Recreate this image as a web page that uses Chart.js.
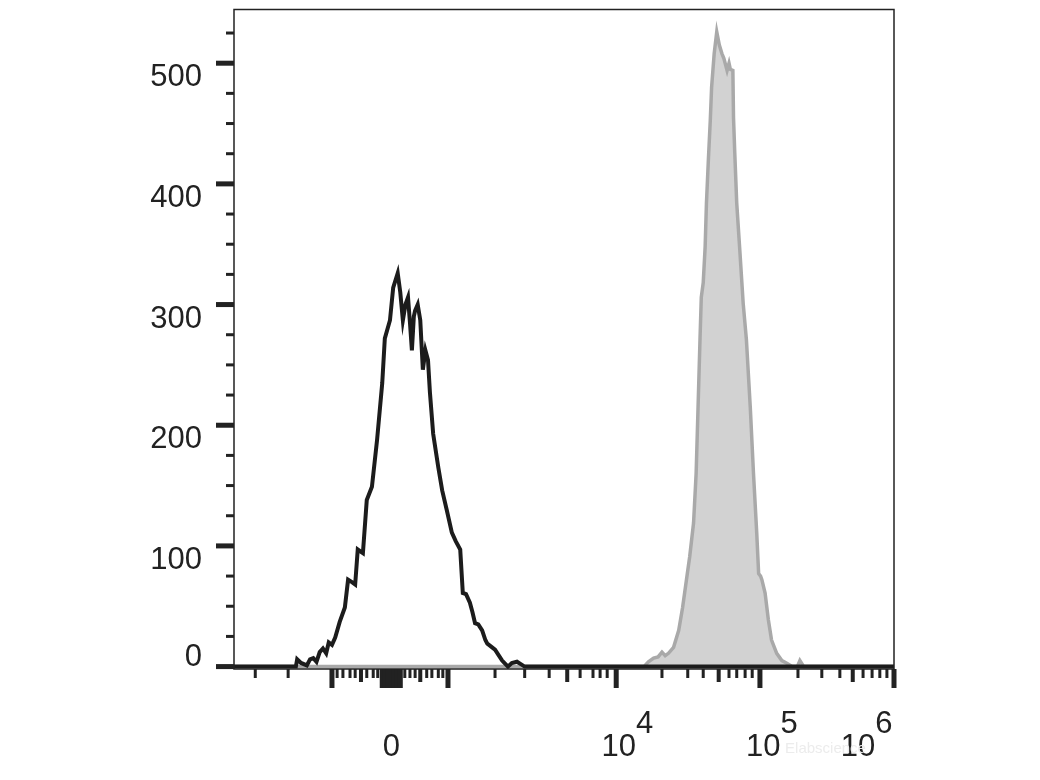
<!DOCTYPE html>
<html>
<head>
<meta charset="utf-8">
<script src="https://cdn.jsdelivr.net/npm/chart.js@4.4.0/dist/chart.umd.min.js"></script>
<style>
  html, body { margin: 0; padding: 0; background: #fff; }
  #wrap { width: 1040px; height: 780px; }
</style>
</head>
<body>
<div id="wrap"><canvas id="chart"></canvas></div>
<script>
// x = display channel on the biexponential axis (0-1024), y = count
var controlX = [0, 96, 98, 104, 113, 118, 123, 128, 133, 138, 143, 147, 152, 157, 164, 172, 177, 183, 188, 192,
  200, 206, 214, 222, 230, 234, 242, 247, 254, 258, 262, 266, 270, 273, 276, 279, 281, 285, 289, 293,
  297, 301, 304, 309, 317, 323, 330, 338, 344, 351, 355, 360, 366, 370, 374, 379, 385, 390, 393, 398,
  405, 410, 416, 425, 431, 439, 445, 451, 1024];
var controlY = [0, 0, 6, 3, 1, 6, 7, 4, 12, 15, 11, 20, 18, 24, 37, 49, 72, 70, 68, 97,
  94, 138, 149, 188, 235, 272, 287, 314, 326, 310, 287, 300, 306, 285, 262, 290, 295, 300, 287, 246,
  262, 254, 227, 193, 165, 146, 130, 111, 104, 97, 61, 60, 53, 45, 36, 35, 30, 22, 19, 17,
  14, 10, 5, 0, 3, 4, 2, 0, 0];

var stainedX = [0, 636, 643, 651, 658, 664, 669, 674, 682, 690, 696, 702, 707, 713, 717, 720, 723, 725, 728, 731,
  733, 736, 739, 741, 745, 749, 753, 757, 760, 765, 768, 770, 774, 775, 777, 780, 785, 790, 795, 801,
  806, 811, 814, 817, 819, 824, 829, 834, 842, 850, 857, 866, 874, 878, 884, 1024];
var stainedY = [0, 0, 4, 7, 8, 12, 9, 11, 16, 30, 49, 72, 91, 119, 160, 215, 271, 306, 318, 348,
  384, 420, 453, 480, 508, 526, 515, 508, 504, 494, 500, 495, 494, 455, 425, 384, 343, 301, 271, 215,
  160, 111, 77, 75, 72, 61, 39, 22, 11, 5, 3, 0, 0, 5, 0, 0];

var yMajorTicks = [0, 100, 200, 300, 400, 500];
var yMinorTicks = [25, 50, 75, 125, 150, 175, 225, 250, 275, 325, 350, 375, 425, 450, 475, 525];

var xLabelPos = [244, 597, 821, 968];
var xLabelBase = ['0', '10', '10', '10'];
var xLabelExp = ['', '4', '5', '6'];

var xLongTicks = [152, 230, 234, 239, 244, 248, 253, 258, 332, 593, 816, 1024];
var xMidTicks = [197, 289, 517, 752, 960];
var xShortTicks = [33, 84, 160, 169, 180, 188, 206, 216, 223, 265, 273, 281, 299, 307, 317, 324,
  405, 451, 489, 537, 557, 568, 579, 664, 704, 728, 768, 780, 793, 804, 875, 912, 940, 976, 990, 1002, 1013];

var FONT = '"Liberation Sans", Arial, sans-serif';
var INK = '#222';
var X_LABEL_PAD = 59.5;

function toPoints(xs, ys) {
  return xs.map(function (x, i) { return { x: x, y: ys[i] }; });
}

function noPadding(scale) {
  scale.paddingTop = 0;
  scale.paddingBottom = 0;
  scale.paddingLeft = 0;
  scale.paddingRight = 0;
}

var axisDecor = {
  id: 'axisDecor',
  afterDraw: function (chart) {
    var ctx = chart.ctx;
    var a = chart.chartArea;
    var xs = chart.scales.x;
    var ys = chart.scales.y;
    ctx.save();

    // frame
    ctx.strokeStyle = '#222';
    ctx.lineWidth = 1.5;
    ctx.strokeRect(a.left, a.top, a.right - a.left, a.bottom - a.top);

    // y tick marks
    ctx.fillStyle = '#222';
    yMajorTicks.forEach(function (v) {
      var p = ys.getPixelForValue(v);
      ctx.fillRect(a.left - 18, p - 2.5, 18, 5);
    });
    yMinorTicks.forEach(function (v) {
      var p = ys.getPixelForValue(v);
      ctx.fillRect(a.left - 8, p - 1.5, 8, 3);
    });

    // x tick marks
    function xTicks(list, len, w) {
      list.forEach(function (v) {
        var p = xs.getPixelForValue(v);
        ctx.fillRect(p - w / 2, a.bottom, w, len);
      });
    }
    xTicks(xShortTicks, 9, 3);
    xTicks(xMidTicks, 13, 4);
    xTicks(xLongTicks, 19, 5);

    // watermark
    ctx.font = '15px ' + FONT;
    ctx.fillStyle = '#ececec';
    ctx.textAlign = 'left';
    ctx.textBaseline = 'middle';
    ctx.fillText('Elabscience', xs.getPixelForValue(855), xs.top + 80);

    // exponents on the decade labels
    ctx.font = '31px ' + FONT;
    ctx.fillStyle = INK;
    var labelY = xs.top + X_LABEL_PAD + 31 * 1.2 / 2;
    xLabelPos.forEach(function (v, i) {
      if (!xLabelExp[i]) return;
      var p = xs.getPixelForValue(v);
      var w = ctx.measureText(xLabelBase[i]).width;
      ctx.fillText(xLabelExp[i], p + w / 2, labelY - 23);
    });
    ctx.restore();
  }
};

new Chart(document.getElementById('chart'), {
  type: 'line',
  data: {
    datasets: [{
      label: 'Control',
      data: toPoints(controlX, controlY),
      borderColor: '#1c1c1c',
      borderWidth: 4,
      pointRadius: 0,
      tension: 0,
      fill: false
    }, {
      label: 'Stained',
      data: toPoints(stainedX, stainedY),
      borderColor: '#a9a9a9',
      borderWidth: 3.5,
      backgroundColor: '#d2d2d2',
      pointRadius: 0,
      tension: 0,
      fill: 'origin'
    }]
  },
  options: {
    responsive: true,
    maintainAspectRatio: false,
    animation: false,
    events: [],
    layout: { padding: { left: 0, top: 9.5, right: 146, bottom: 0 } },
    plugins: {
      legend: { display: false },
      tooltip: { enabled: false }
    },
    scales: {
      x: {
        type: 'linear',
        min: 0,
        max: 1024,
        grid: { display: false, drawTicks: false },
        border: { display: false },
        afterBuildTicks: function (scale) {
          scale.ticks = xLabelPos.map(function (v) { return { value: v }; });
        },
        afterFit: function (scale) { scale.height = 111; noPadding(scale); },
        ticks: {
          autoSkip: false,
          maxRotation: 0,
          padding: X_LABEL_PAD,
          color: INK,
          font: { family: FONT, size: 31 },
          callback: function (value) {
            var i = xLabelPos.indexOf(value);
            return i >= 0 ? xLabelBase[i] : '';
          }
        }
      },
      y: {
        type: 'linear',
        min: -2,
        max: 544.5,
        grid: { display: false, drawTicks: false },
        border: { display: false },
        afterBuildTicks: function (scale) {
          scale.ticks = yMajorTicks.map(function (v) { return { value: v }; });
        },
        afterFit: function (scale) { scale.width = 234; noPadding(scale); },
        ticks: {
          padding: 32,
          labelOffset: 3,
          color: INK,
          font: { family: FONT, size: 31, lineHeight: 0.755 },
          // labels hang below their tick, except 0 which sits above it
          callback: function (value) {
            return value === 0 ? ['0', ''] : ['', String(value)];
          }
        }
      }
    }
  },
  plugins: [axisDecor]
});
</script>
</body>
</html>
